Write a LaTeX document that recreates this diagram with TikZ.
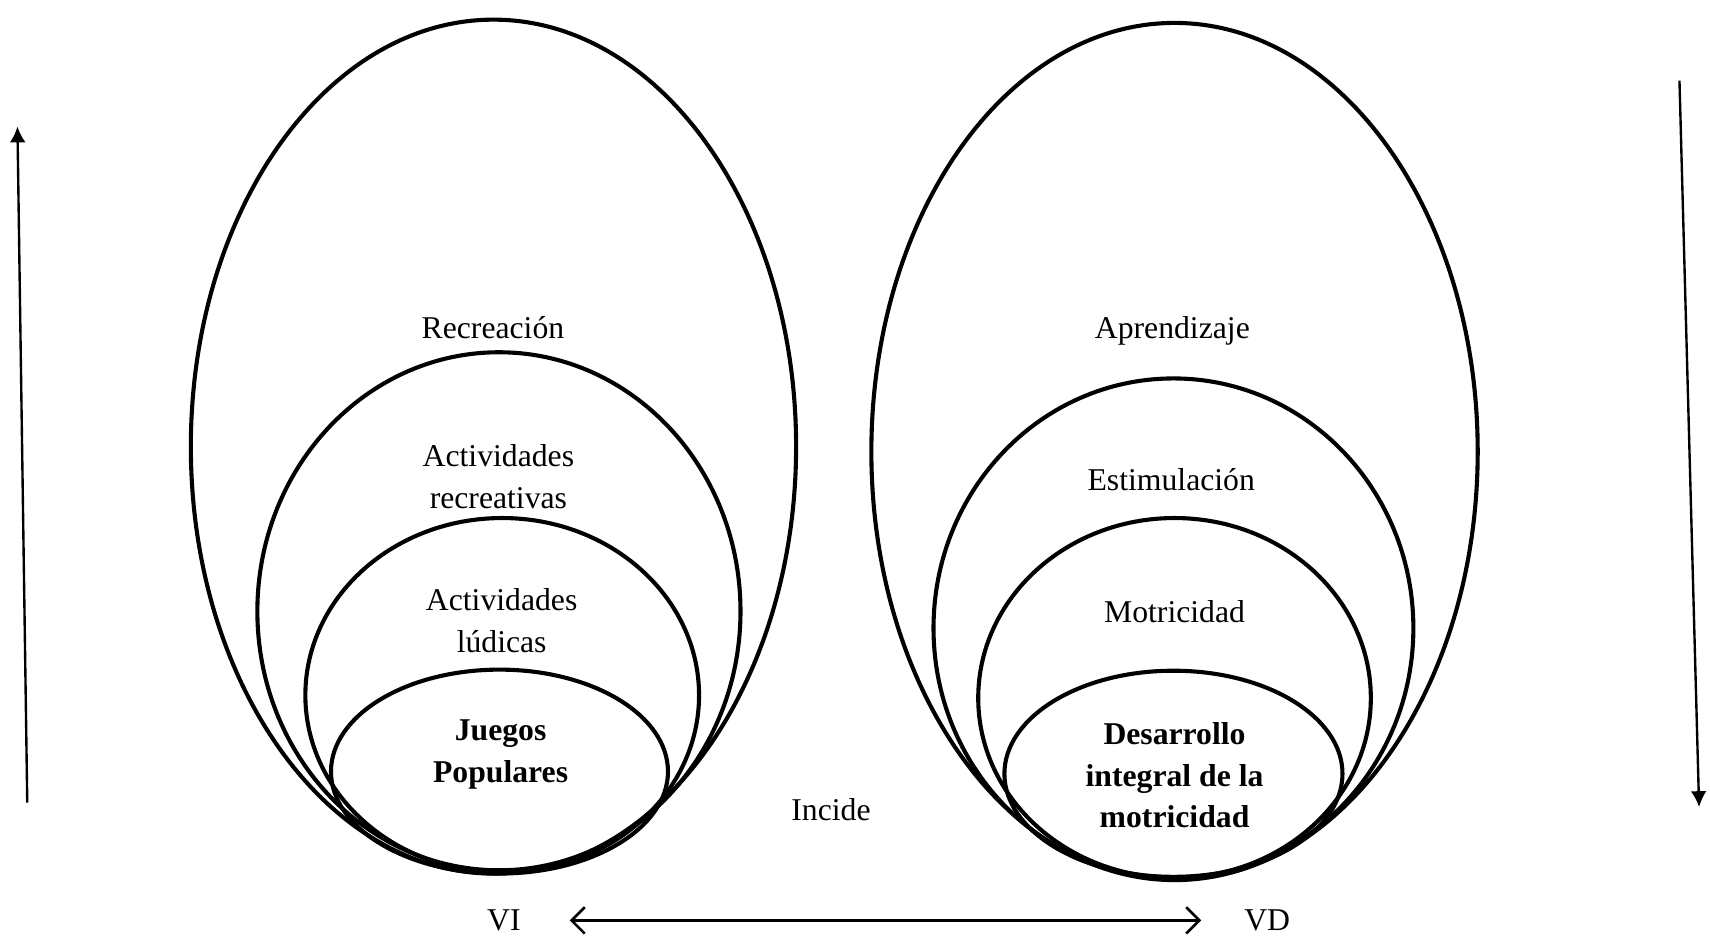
\documentclass[tikz,border=0pt]{standalone}
\usepackage{fontspec}
\setmainfont{Liberation Serif}
\usetikzlibrary{arrows.meta}

\begin{document}
\begin{tikzpicture}[x=0.4128pt, y=-0.4128pt, >={Latex[length=6pt,width=6pt]}, font=\fontsize{12}{15.7}\selectfont]
      \tikzset{
        oval/.style={line width=1.55pt},
        lbl/.style={align=center, inner sep=0pt},
        boldlbl/.style={lbl, font=\fontsize{12}{15.7}\selectfont\bfseries},
        barb/.style={{Straight Barb[length=5pt,width=10pt]}-{Straight Barb[length=5pt,width=10pt]}, line width=1pt}
      }
      \useasboundingbox (0,0) rectangle (1568,858);
      \draw[oval] (452.5,409.5) ellipse [x radius=277.5, y radius=391.5];
      \draw[oval] (457.5,560.5) ellipse [x radius=221.5, y radius=237.5];
      \draw[oval] (460.5,637.5) ellipse [x radius=180.5, y radius=162.5];
      \draw[oval] (458,707.5) ellipse [x radius=154.5, y radius=93.5];
      \draw[oval] (1077,414) ellipse [x radius=278, y radius=393];
      \draw[oval] (1076,576) ellipse [x radius=220, y radius=229];
      \draw[oval] (1077,640) ellipse [x radius=180, y radius=165];
      \draw[oval] (1076,709.5) ellipse [x radius=155, y radius=94.5];
      \node[lbl] (recre) at (452,300) {Recreación};
      \node[lbl] (actrec) at (457,437) {Actividades\\recreativas};
      \node[lbl] (actlud) at (460,569) {Actividades\\lúdicas};
      \node[boldlbl] (juegos) at (459,692) {Juegos\\Populares};
      \node[lbl] (apren) at (1075,303) {Aprendizaje};
      \node[lbl] (estim) at (1074,440) {Estimulación};
      \node[lbl] (motri) at (1077,561) {Motricidad};
      \node[boldlbl] (desar) at (1077,711) {Desarrollo\\integral de la\\motricidad};
      \node[lbl] (incide) at (762,742) {Incide};
      \node[lbl] (vi) at (462,844) {VI};
      \node[lbl] (vd) at (1162,844) {VD};
      \coordinate (lbot) at (25,736);
      \coordinate (ltop) at (16,116);
      \coordinate (rtop) at (1540,74);
      \coordinate (rbot) at (1558,740);
      \draw[barb, shorten <=18.4pt, shorten >=16.1pt] (vi) -- (vd);
      \draw[->, line width=0.9pt] (lbot) -- (ltop);
      \draw[->, line width=0.9pt] (rtop) -- (rbot);
    \end{tikzpicture}
\end{document}
